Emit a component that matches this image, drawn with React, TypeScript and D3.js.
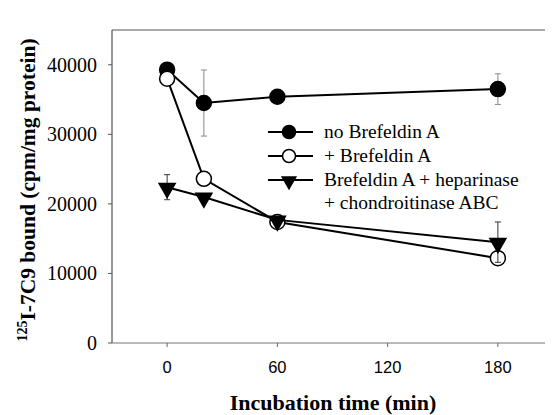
import React from 'react';
import { scaleLinear, line, symbol, symbolTriangle } from 'd3';

// incubation times (min)
const times = [0, 20, 60, 180];
const xTicks = [0, 60, 120, 180];
const yTicks = [0, 10000, 20000, 30000, 40000];

// 125I-7C9 bound (cpm/mg protein)
const noBrefeldin = [39300, 34500, 35400, 36500];
const noBrefeldinErr = [0, 4750, 0, 2200];
const plusBrefeldin = [38000, 23600, 17400, 12200];
const plusBrefeldinErr = [0, 0, 0, 0];
const brefHepChon = [22400, 21000, 17700, 14500];
const brefHepChonErr = [1800, 0, 0, 2900];

const legendLabels = ['no Brefeldin A', '+ Brefeldin A', 'Brefeldin A + heparinase', '+ chondroitinase ABC'];

const W = 553;
const H = 415;
const PAD = 8; // body margin, drawn back over
const margin = { left: 112, top: 30, right: 0, bottom: 72 };

// generic serif for regular text (renders Times-like here), named face for bold
const serif = { fontFamily: 'serif' };
const serifBold = { fontFamily: 'Liberation Serif' };
const sans = { fontFamily: 'Liberation Sans' };

type Series = { values: number[]; err: number[]; marker: 'filled' | 'open' | 'tri' };

const series: Series[] = [
  { values: noBrefeldin, err: noBrefeldinErr, marker: 'filled' },
  { values: plusBrefeldin, err: plusBrefeldinErr, marker: 'open' },
  { values: brefHepChon, err: brefHepChonErr, marker: 'tri' },
];

const triPath = symbol().type(symbolTriangle).size(150)() as string;

const Marker: React.FC<{ kind: string; x: number; y: number; r?: number }> = ({ kind, x, y, r = 7.5 }) => {
  if (kind === 'tri') {
    const s = r / 7.5;
    return <path d={triPath} transform={`translate(${x},${y + 1}) rotate(180) scale(${s})`} fill="#000" />;
  }
  return (
    <circle cx={x} cy={y} r={r} fill={kind === 'filled' ? '#000' : '#fff'} stroke="#000" strokeWidth={1.5} />
  );
};

export default function App() {
  const x = scaleLinear().domain([-30, 210]).range([margin.left, W - margin.right]);
  const y = scaleLinear().domain([0, 45000]).range([H - margin.bottom, margin.top]);
  const y0 = y(0);

  const lineGen = line<number>()
    .x((_, i) => x(times[i]))
    .y(d => y(d));

  const legendX = 268;
  const legendRows = [132, 156, 180];

  return (
    <svg width={W - PAD} height={H - PAD}>
      <g transform={`translate(${-PAD},${-PAD})`}>
        {/* frame */}
        <line x1={margin.left} x2={W} y1={margin.top} y2={margin.top} stroke="#555" strokeWidth={1.2} />
        <line x1={margin.left} x2={margin.left} y1={margin.top} y2={y0} stroke="#555" strokeWidth={1.2} />
        <line x1={margin.left} x2={W} y1={y0} y2={y0} stroke="#777" strokeWidth={1.2} />

        {/* y axis */}
        {yTicks.map(t => (
          <g key={t}>
            <line x1={margin.left - 4} x2={margin.left} y1={y(t)} y2={y(t)} stroke="#555" />
            <text x={97} y={y(t) + 7} textAnchor="end" style={serif} fontSize={20}>
              {t}
            </text>
          </g>
        ))}

        {/* x axis */}
        {xTicks.map(t => (
          <g key={t}>
            <line x1={x(t)} x2={x(t)} y1={y0} y2={y0 + 4} stroke="#666" />
            <text x={x(t)} y={373} textAnchor="middle" style={sans} fontSize={16.5}>
              {t}
            </text>
          </g>
        ))}

        {/* series */}
        {series.map((s, si) => (
          <g key={si}>
            <path d={lineGen(s.values) as string} fill="none" stroke="#000" strokeWidth={2} />
            {s.values.map((v, i) =>
              s.err[i] > 0 ? (
                <g key={'e' + i} stroke={si === 2 ? '#333' : '#888'} strokeWidth={1}>
                  <line x1={x(times[i])} x2={x(times[i])} y1={y(v + s.err[i])} y2={y(v - s.err[i])} />
                  <line x1={x(times[i]) - 3} x2={x(times[i]) + 3} y1={y(v + s.err[i])} y2={y(v + s.err[i])} />
                  <line x1={x(times[i]) - 3} x2={x(times[i]) + 3} y1={y(v - s.err[i])} y2={y(v - s.err[i])} />
                </g>
              ) : null
            )}
            {s.values.map((v, i) => (
              <Marker key={i} kind={s.marker} x={x(times[i])} y={y(v)} />
            ))}
          </g>
        ))}

        {/* legend */}
        {series.map((s, i) => (
          <g key={'l' + i}>
            <line x1={legendX} x2={legendX + 45} y1={legendRows[i]} y2={legendRows[i]} stroke="#000" strokeWidth={2} />
            <Marker kind={s.marker} x={legendX + 21} y={legendRows[i]} r={6.5} />
            <text x={324} y={legendRows[i] + 6} style={serif} fontSize={19.5}>
              {legendLabels[i]}
            </text>
          </g>
        ))}
        <text x={324} y={209} style={serif} fontSize={19.5}>
          {legendLabels[3]}
        </text>

        {/* axis titles */}
        <text x={333} y={410} textAnchor="middle" style={serifBold} fontWeight="bold" fontSize={22}>
          Incubation time (min)
        </text>
        <text transform={`translate(35,190) rotate(-90)`} textAnchor="middle" style={serifBold} fontWeight="bold" fontSize={21.5}>
          <tspan fontSize={14} dy="-8">125</tspan>
          <tspan dy="8">I-7C9 bound (cpm/mg protein)</tspan>
        </text>
      </g>
    </svg>
  );
}
